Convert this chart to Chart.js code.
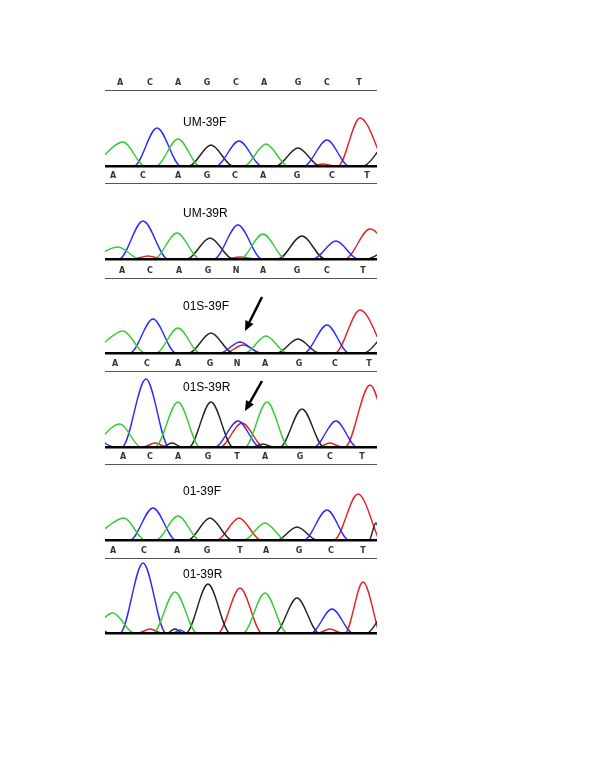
<!DOCTYPE html>
<html>
<head>
<meta charset="utf-8">
<script src="https://cdn.jsdelivr.net/npm/chart.js@4.4.1/dist/chart.umd.min.js"></script>
<style>
body { margin: 0; background: #fff; width: 600px; height: 776px; position: relative; overflow: hidden; }
canvas { position: absolute; left: 105px; }
</style>
</head>
<body>
<script>
// sample names and base calls (one letter row above each trace panel)
var samples = ['UM-39F', 'UM-39R', '01S-39F', '01S-39R', '01-39F', '01-39R'];
var calls = ['ACAGCAGCT', 'ACAGCAGCT', 'ACAGNAGCT', 'ACAGNAGCT', 'ACAGTAGCT', 'ACAGTAGCT'];
var callPos = [
    [15, 45, 73, 102, 131, 159, 193, 222, 254],
    [8, 38, 73, 102, 130, 158, 192, 227, 262],
    [17, 45, 74, 103, 131, 158, 192, 222, 258],
    [10, 42, 73, 105, 132, 160, 194, 230, 264],
    [18, 45, 73, 103, 132, 160, 195, 225, 257],
    [8, 39, 72, 102, 135, 161, 194, 226, 258]
];

// trace points [scan, signal] per dye: A green, C blue, G black, T red
var um39fA = [[-6,6],[18,24],[40,0],[51,0],[73,27],[95,0],[139,0],[161,22],[183,0],[280,0]];
var um39fC = [[-10,0],[29,0],[52,38],[76,0],[111,0],[134,25],[157,0],[199,0],[222,26],[244,0],[280,0]];
var um39fG = [[-10,0],[84,0],[106,21],[128,0],[171,0],[193,18],[215,0],[258,0],[276,18]];
var um39fT = [[-10,0],[205,0],[218,2],[230,0],[233,0],[255,48],[280,0]];

var um39rA = [[-14,0],[13,12],[35,0],[49,0],[72,26],[95,0],[135,0],[158,25],[181,0],[280,0]];
var um39rC = [[-10,0],[14,0],[38,38],[63,0],[109,0],[133,34],[157,0],[208,0],[231,18],[253,0],[280,0]];
var um39rG = [[-10,0],[82,0],[105,21],[128,0],[173,0],[197,23],[220,0],[262,0],[276,6]];
var um39rT = [[-10,0],[28,0],[43,3],[58,0],[120,0],[135,2],[150,0],[240,0],[265,30],[290,0]];

var s01s39fA = [[-6,6],[18,22],[40,0],[51,0],[73,25],[95,0],[140,0],[161,17],[182,0],[280,0]];
var s01s39fC = [[-10,0],[25,0],[48,34],[71,0],[115,0],[135,11],[155,0],[199,0],[222,28],[244,0],[280,0]];
var s01s39fG = [[-10,0],[84,0],[106,20],[128,0],[172,0],[193,14],[214,0],[259,0],[276,15]];
var s01s39fT = [[-10,0],[120,0],[138,8],[157,0],[230,0],[255,43],[280,0]];

var s01s39rA = [[-12,0],[15,23],[36,0],[50,0],[73,45],[95,0],[140,0],[162,45],[184,0],[280,0]];
var s01s39rC = [[-6,7],[10,0],[17,0],[41,68],[64,0],[110,0],[133,26],[155,0],[209,0],[231,26],[252,0],[280,0]];
var s01s39rG = [[-10,0],[57,0],[67,4],[77,0],[84,0],[106,45],[128,0],[148,0],[158,3],[168,0],[175,0],[197,38],[219,0],[280,0]];
var s01s39rT = [[-10,0],[38,0],[50,4],[62,0],[115,0],[137,24],[159,0],[213,0],[225,4],[237,0],[240,0],[265,62],[285,0]];

var s0139fA = [[-6,7],[19,22],[40,0],[51,0],[73,24],[95,0],[139,0],[160,17],[181,0],[280,0]];
var s0139fC = [[-10,0],[25,0],[48,32],[71,0],[199,0],[222,30],[244,0],[280,0]];
var s0139fG = [[-10,0],[83,0],[105,22],[127,0],[172,0],[192,13],[212,0],[264,0],[271,17],[276,0]];
var s0139fT = [[-10,0],[112,0],[134,22],[156,0],[229,0],[253,46],[274,0]];

var s0139rA = [[-14,0],[8,20],[29,0],[48,0],[70,41],[92,0],[138,0],[160,40],[182,0],[280,0]];
var s0139rC = [[-6,6],[4,0],[15,0],[38,70],[61,0],[68,0],[75,3],[82,0],[206,0],[227,24],[248,0],[280,0]];
var s0139rG = [[-10,0],[62,0],[70,4],[78,0],[81,0],[103,49],[125,0],[170,0],[192,35],[214,0],[262,0],[276,17]];
var s0139rT = [[-10,0],[33,0],[45,4],[57,0],[113,0],[135,45],[157,0],[213,0],[225,4],[237,0],[240,0],[258,51],[274,0]];

var traces = [
    [um39fA, um39fC, um39fG, um39fT],
    [um39rA, um39rC, um39rG, um39rT],
    [s01s39fA, s01s39fC, s01s39fG, s01s39fT],
    [s01s39rA, s01s39rC, s01s39rG, s01s39rT],
    [s0139fA, s0139fC, s0139fG, s0139fT],
    [s0139rA, s0139rC, s0139rG, s0139rT]
];
var dyeColors = ['#33cc33', '#2a2aff', '#222222', '#e52222'];

// page layout
var lineY = [90, 183, 278, 371, 464, 558];
var baseY = [166, 259, 353, 447, 540, 633];
var labelDy = [33, 31, 29, 17, 28, 17];
var arrows = [null, null, [157, 19, 140, 53], [157, 10, 140, 40], null, null];

var panelText = {
    id: 'panelText',
    afterDraw: function(chart, args, opts) {
        var c = chart.ctx, a = chart.chartArea;
        c.save();
        c.font = '12px "Liberation Sans", Arial, sans-serif';
        c.fillStyle = '#000';
        c.textBaseline = 'middle';
        c.fillText(opts.text, a.left + 78, a.top + opts.dy);
        if (opts.arrow) {
            var x0 = a.left + opts.arrow[0], y0 = a.top + opts.arrow[1];
            var x1 = a.left + opts.arrow[2], y1 = a.top + opts.arrow[3];
            var ang = Math.atan2(y1 - y0, x1 - x0), hl = 10, hw = 4.5;
            var bx = x1 - hl * Math.cos(ang), by = y1 - hl * Math.sin(ang);
            c.strokeStyle = '#000';
            c.lineWidth = 2.5;
            c.beginPath();
            c.moveTo(x0, y0);
            c.lineTo(bx, by);
            c.stroke();
            c.beginPath();
            c.moveTo(x1, y1);
            c.lineTo(bx + hw * Math.sin(ang), by - hw * Math.cos(ang));
            c.lineTo(bx - hw * Math.sin(ang), by + hw * Math.cos(ang));
            c.closePath();
            c.fill();
        }
        c.restore();
    }
};

samples.forEach(function(name, i) {
    var h = baseY[i] - lineY[i];
    var cv = document.createElement('canvas');
    cv.width = 272;
    cv.height = 14 + h + 3;
    cv.style.top = (lineY[i] - 14) + 'px';
    document.body.appendChild(cv);

    new Chart(cv.getContext('2d'), {
        type: 'line',
        data: {
            datasets: traces[i].map(function(pts, k) {
                return {
                    data: pts.map(function(p) { return { x: p[0], y: p[1] }; }),
                    borderColor: dyeColors[k],
                    borderWidth: 1.4,
                    pointRadius: 0,
                    cubicInterpolationMode: 'monotone',
                    fill: false
                };
            })
        },
        options: {
            responsive: false,
            animation: false,
            devicePixelRatio: 1,
            layout: { padding: 0 },
            scales: {
                x: {
                    type: 'linear', position: 'bottom', min: 0, max: 272,
                    grid: { display: false, drawTicks: false },
                    ticks: { display: false },
                    border: { display: true, color: '#000', width: 2.5, z: 1 },
                    afterFit: function(s) { s.height = 3; }
                },
                calls: {
                    type: 'linear', position: 'top', min: 0, max: 272,
                    grid: { display: false, drawTicks: false },
                    border: { display: true, color: '#555', width: 1 },
                    afterBuildTicks: function(s) {
                        s.ticks = callPos[i].map(function(v) { return { value: v }; });
                    },
                    ticks: {
                        autoSkip: false, maxRotation: 0, padding: 2, color: '#333',
                        font: { family: 'DejaVu Sans', size: 8, weight: 'bold' },
                        callback: function(v, idx) { return calls[i][idx]; }
                    },
                    afterFit: function(s) { s.height = 14; }
                },
                y: { display: false, min: 0, max: h }
            },
            plugins: {
                legend: { display: false },
                tooltip: { enabled: false },
                panelText: { text: name, dy: labelDy[i], arrow: arrows[i] }
            }
        },
        plugins: [panelText]
    });
});
</script>
</body>
</html>
